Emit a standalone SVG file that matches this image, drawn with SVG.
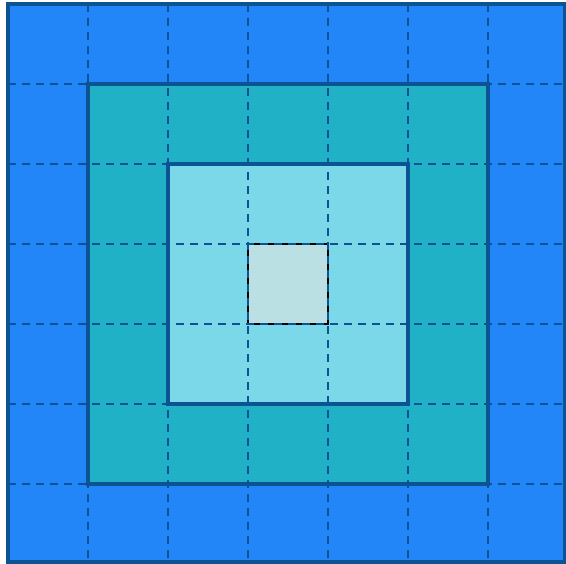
<svg xmlns="http://www.w3.org/2000/svg" width="566" height="564" viewBox="0 0 566 564">
<style>
.b{stroke:#0b5392;stroke-width:4}
.g line{stroke:#0b5392;stroke-width:2;stroke-dasharray:8 6}
</style>
<rect width="566" height="564" fill="#ffffff"/>
<g id="outer"><rect class="b" x="8" y="4" width="557" height="558" fill="#2286f8"/></g>
<g id="ring"><rect class="b" x="88" y="84" width="400" height="400" fill="#21b1c6"/></g>
<g id="inner"><rect class="b" x="168" y="164" width="240" height="240" fill="#7bd8e8"/></g>
<g id="center"><rect x="248" y="244" width="80" height="80" fill="#bbe0e3" stroke="#000" stroke-width="2"/></g>
<g id="grid" class="g">
<line x1="88" y1="4" x2="88" y2="562"/>
<line x1="168" y1="4" x2="168" y2="562"/>
<line x1="248" y1="4" x2="248" y2="562"/>
<line x1="328" y1="4" x2="328" y2="562"/>
<line x1="408" y1="4" x2="408" y2="562"/>
<line x1="488" y1="4" x2="488" y2="562"/>
<line x1="8" y1="84" x2="565" y2="84"/>
<line x1="8" y1="164" x2="565" y2="164"/>
<line x1="8" y1="244" x2="565" y2="244"/>
<line x1="8" y1="324" x2="565" y2="324"/>
<line x1="8" y1="404" x2="565" y2="404"/>
<line x1="8" y1="484" x2="565" y2="484"/>
</g>
</svg>
